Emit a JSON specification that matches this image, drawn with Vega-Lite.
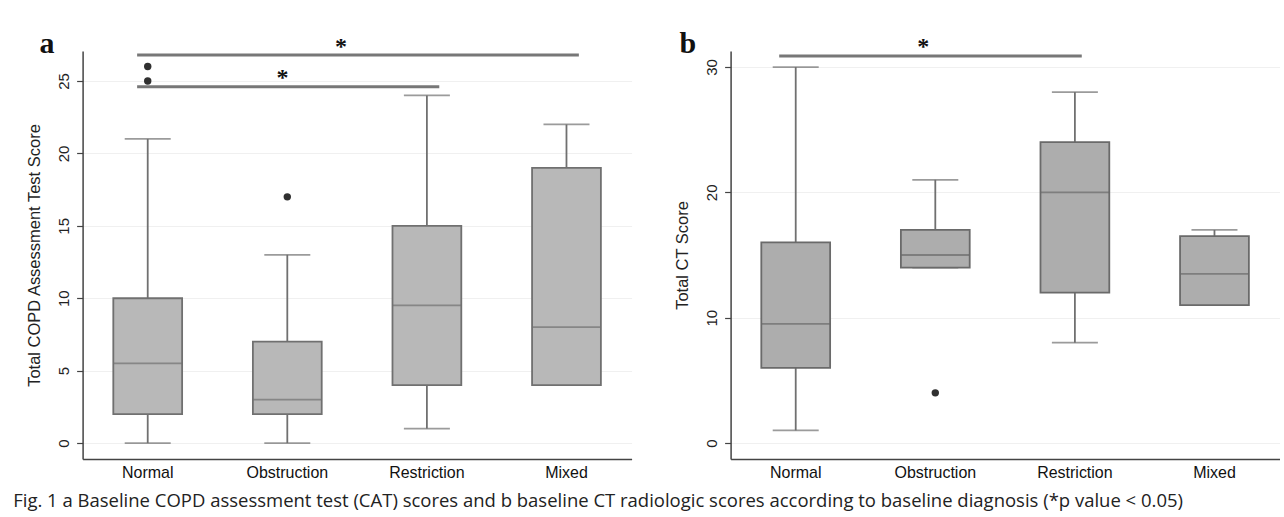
{
  "$schema": "https://vega.github.io/schema/vega-lite/v6.json",
  "background": "white",
  "padding": {"left": 12.6, "top": 28, "right": 0, "bottom": 0},
  "datasets": {
    "statsA": [
      {"group": "Normal", "lo": 0, "q1": 2, "med": 5.5, "q3": 10, "hi": 21},
      {"group": "Obstruction", "lo": 0, "q1": 2, "med": 3, "q3": 7, "hi": 13},
      {"group": "Restriction", "lo": 1, "q1": 4, "med": 9.5, "q3": 15, "hi": 24},
      {"group": "Mixed", "lo": 4, "q1": 4, "med": 8, "q3": 19, "hi": 22}
    ],
    "outA": [
      {"group": "Normal", "value": 25},
      {"group": "Normal", "value": 26},
      {"group": "Obstruction", "value": 17}
    ],
    "sigA": [
      {"from": "Normal", "to": "Mixed", "y": 26.8},
      {"from": "Normal", "to": "Restriction", "y": 24.6}
    ],
    "starA": [
      {"pair": "Normal-Restriction", "at": "Obstruction", "y": 25.2, "label": "*"},
      {"pair": "Normal-Mixed", "at": "Obstruction", "y": 27.35, "label": "*"}
    ],
    "statsB": [
      {"group": "Normal", "lo": 1, "q1": 6, "med": 9.5, "q3": 16, "hi": 30},
      {"group": "Obstruction", "lo": 14, "q1": 14, "med": 15, "q3": 17, "hi": 21},
      {"group": "Restriction", "lo": 8, "q1": 12, "med": 20, "q3": 24, "hi": 28},
      {"group": "Mixed", "lo": 11, "q1": 11, "med": 13.5, "q3": 16.5, "hi": 17}
    ],
    "outB": [
      {"group": "Obstruction", "value": 4}
    ],
    "sigB": [
      {"from": "Normal", "to": "Restriction", "y": 30.88}
    ],
    "starB": [
      {"pair": "Normal-Restriction", "at": "Obstruction", "y": 31.6, "label": "*"}
    ]
  },
  "hconcat": [
    {
      "width": 549,
      "height": 408,
      "title": {"text": "a", "dx": -43},
      "layer": [
        {
          "data": {"name": "statsA"},
          "mark": {"type": "rule", "color": "#707070", "strokeWidth": 1.8},
          "encoding": {
            "x": {"field": "group", "type": "nominal", "title": null,
              "scale": {"domain": ["Normal", "Obstruction", "Restriction", "Mixed"], "paddingInner": 0.507, "paddingOuter": 0.22}},
            "y": {"field": "lo", "type": "quantitative",
              "scale": {"domain": [-1.1, 27.07], "nice": false, "zero": false},
              "axis": {"values": [0, 5, 10, 15, 20, 25], "title": "Total COPD Assessment Test Score"}},
            "y2": {"field": "q1"}
          }
        },
        {
          "data": {"name": "statsA"},
          "mark": {"type": "rule", "color": "#707070", "strokeWidth": 1.8},
          "encoding": {
            "x": {"field": "group", "type": "nominal", "title": null},
            "y": {"field": "q3", "type": "quantitative"},
            "y2": {"field": "hi"}
          }
        },
        {
          "data": {"name": "statsA"},
          "mark": {"type": "tick", "color": "#707070", "thickness": 1.8, "size": 46},
          "encoding": {
            "x": {"field": "group", "type": "nominal", "title": null},
            "y": {"field": "lo", "type": "quantitative"}
          }
        },
        {
          "data": {"name": "statsA"},
          "mark": {"type": "tick", "color": "#707070", "thickness": 1.8, "size": 46},
          "encoding": {
            "x": {"field": "group", "type": "nominal", "title": null},
            "y": {"field": "hi", "type": "quantitative"}
          }
        },
        {
          "data": {"name": "statsA"},
          "mark": {"type": "bar", "fill": "#b8b8b8", "stroke": "#707070", "strokeWidth": 1.8},
          "encoding": {
            "x": {"field": "group", "type": "nominal", "title": null},
            "y": {"field": "q1", "type": "quantitative"},
            "y2": {"field": "q3"}
          }
        },
        {
          "data": {"name": "statsA"},
          "mark": {"type": "tick", "color": "#707070", "thickness": 1.8, "size": 69},
          "encoding": {
            "x": {"field": "group", "type": "nominal", "title": null},
            "y": {"field": "med", "type": "quantitative"}
          }
        },
        {
          "data": {"name": "outA"},
          "mark": {"type": "point", "filled": true, "color": "#303030", "size": 55, "opacity": 1},
          "encoding": {
            "x": {"field": "group", "type": "nominal", "title": null},
            "y": {"field": "value", "type": "quantitative"}
          }
        },
        {
          "data": {"name": "sigA"},
          "mark": {"type": "rule", "color": "#777777", "strokeWidth": 3},
          "encoding": {
            "x": {"field": "from", "type": "nominal", "title": null, "bandPosition": 0.346},
            "x2": {"field": "to", "bandPosition": 0.68},
            "y": {"field": "y", "type": "quantitative"}
          }
        },
        {
          "data": {"name": "starA"},
          "transform": [{"filter": "datum.pair === 'Normal-Restriction'"}],
          "mark": {"type": "text", "font": "Liberation Serif", "fontSize": 24, "fontWeight": "bold", "color": "#111", "baseline": "middle"},
          "encoding": {
            "x": {"field": "at", "type": "nominal", "title": null, "bandPosition": 0.43},
            "y": {"field": "y", "type": "quantitative"},
            "text": {"field": "label"}
          }
        },
        {
          "data": {"name": "starA"},
          "transform": [{"filter": "datum.pair === 'Normal-Mixed'"}],
          "mark": {"type": "text", "font": "Liberation Serif", "fontSize": 24, "fontWeight": "bold", "color": "#111", "baseline": "middle"},
          "encoding": {
            "x": {"field": "at", "type": "nominal", "title": null, "bandPosition": 1.28},
            "y": {"field": "y", "type": "quantitative"},
            "text": {"field": "label"}
          }
        }
      ]
    },
    {
      "width": 549,
      "height": 408,
      "title": {"text": "b", "dx": -51},
      "layer": [
        {
          "data": {"name": "statsB"},
          "mark": {"type": "rule", "color": "#707070", "strokeWidth": 1.8},
          "encoding": {
            "x": {"field": "group", "type": "nominal", "title": null,
              "scale": {"domain": ["Normal", "Obstruction", "Restriction", "Mixed"], "paddingInner": 0.507, "paddingOuter": 0.22}},
            "y": {"field": "lo", "type": "quantitative",
              "scale": {"domain": [-1.28, 31.28], "nice": false, "zero": false},
              "axis": {"values": [0, 10, 20, 30], "title": "Total CT Score"}},
            "y2": {"field": "q1"}
          }
        },
        {
          "data": {"name": "statsB"},
          "mark": {"type": "rule", "color": "#707070", "strokeWidth": 1.8},
          "encoding": {
            "x": {"field": "group", "type": "nominal", "title": null},
            "y": {"field": "q3", "type": "quantitative"},
            "y2": {"field": "hi"}
          }
        },
        {
          "data": {"name": "statsB"},
          "mark": {"type": "tick", "color": "#707070", "thickness": 1.8, "size": 46},
          "encoding": {
            "x": {"field": "group", "type": "nominal", "title": null},
            "y": {"field": "lo", "type": "quantitative"}
          }
        },
        {
          "data": {"name": "statsB"},
          "mark": {"type": "tick", "color": "#707070", "thickness": 1.8, "size": 46},
          "encoding": {
            "x": {"field": "group", "type": "nominal", "title": null},
            "y": {"field": "hi", "type": "quantitative"}
          }
        },
        {
          "data": {"name": "statsB"},
          "mark": {"type": "bar", "fill": "#adadad", "stroke": "#6a6a6a", "strokeWidth": 1.8},
          "encoding": {
            "x": {"field": "group", "type": "nominal", "title": null},
            "y": {"field": "q1", "type": "quantitative"},
            "y2": {"field": "q3"}
          }
        },
        {
          "data": {"name": "statsB"},
          "mark": {"type": "tick", "color": "#6a6a6a", "thickness": 1.8, "size": 69},
          "encoding": {
            "x": {"field": "group", "type": "nominal", "title": null},
            "y": {"field": "med", "type": "quantitative"}
          }
        },
        {
          "data": {"name": "outB"},
          "mark": {"type": "point", "filled": true, "color": "#303030", "size": 55, "opacity": 1},
          "encoding": {
            "x": {"field": "group", "type": "nominal", "title": null},
            "y": {"field": "value", "type": "quantitative"}
          }
        },
        {
          "data": {"name": "sigB"},
          "mark": {"type": "rule", "color": "#777777", "strokeWidth": 3},
          "encoding": {
            "x": {"field": "from", "type": "nominal", "title": null, "bandPosition": 0.26},
            "x2": {"field": "to", "bandPosition": 0.6},
            "y": {"field": "y", "type": "quantitative"}
          }
        },
        {
          "data": {"name": "starB"},
          "mark": {"type": "text", "font": "Liberation Serif", "fontSize": 24, "fontWeight": "bold", "color": "#111", "baseline": "middle"},
          "encoding": {
            "x": {"field": "at", "type": "nominal", "title": null, "bandPosition": 0.325},
            "y": {"field": "y", "type": "quantitative"},
            "text": {"field": "label"}
          }
        }
      ]
    }
  ],
  "spacing": 43,
  "title": {
    "text": "Fig. 1  a Baseline COPD assessment test (CAT) scores and b baseline CT radiologic scores according to baseline diagnosis (*p value < 0.05)",
    "orient": "bottom",
    "anchor": "start",
    "frame": "bounds",
    "font": "Open Sans",
    "fontSize": 18.5,
    "fontWeight": "normal",
    "color": "#222222",
    "baseline": "alphabetic",
    "offset": 26,
    "dx": -13.4
  },
  "config": {
    "font": "Liberation Sans",
    "view": {"stroke": null},
    "title": {
      "font": "Liberation Serif",
      "fontSize": 30,
      "fontWeight": "bold",
      "color": "#111111",
      "anchor": "start",
      "frame": "group",
      "baseline": "alphabetic",
      "offset": -24
    },
    "axisY": {
      "domainColor": "#444444",
      "domainWidth": 1.5,
      "tickColor": "#444444",
      "tickSize": 6,
      "tickWidth": 1.2,
      "labelAngle": 270,
      "labelAlign": "center",
      "labelBaseline": "bottom",
      "labelFontSize": 15,
      "labelColor": "#222222",
      "labelPadding": 5,
      "grid": true,
      "gridColor": "#f0f0f0",
      "gridWidth": 1,
      "titleFontSize": 16.5,
      "titleFontWeight": "normal",
      "titleColor": "#222222",
      "titlePadding": 14
    },
    "axisX": {
      "domainColor": "#444444",
      "domainWidth": 1.5,
      "ticks": false,
      "labelAngle": 0,
      "labelFontSize": 16,
      "labelColor": "#111111",
      "labelPadding": 6,
      "grid": false
    }
  }
}
